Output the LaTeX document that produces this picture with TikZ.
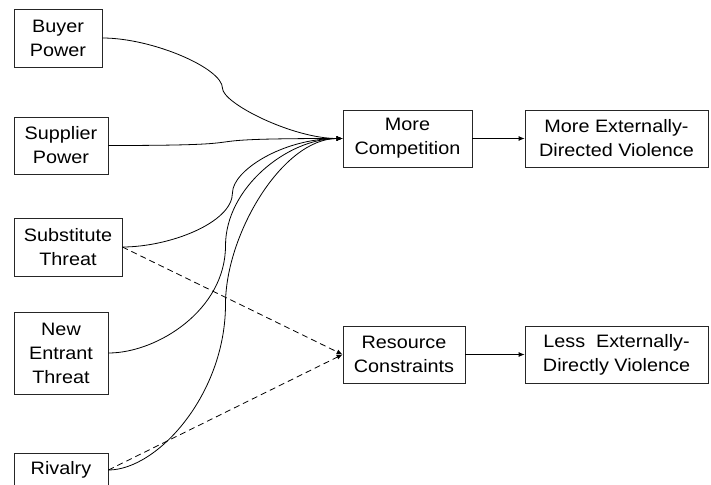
\documentclass[tikz,border=0pt]{standalone}
\usepackage{fontspec}
\setmainfont[FakeStretch=1.1]{Liberation Sans}
\usetikzlibrary{arrows.meta,calc}
\tikzset{
  box/.style={draw=black!85, line width=0.8pt, align=center, inner sep=0pt,
    font=\fontsize{18}{24}\selectfont},
  conn/.style={draw=black, line width=0.8pt, -{Latex[length=6pt,width=5pt]}},
  dconn/.style={conn, dash pattern=on 6pt off 4pt},
}
\begin{document}
\begin{tikzpicture}[x=1pt,y=-1pt]
\clip (0,0) rectangle (711,484);
\fill[white] (0,0) rectangle (711,484);
\node[box, minimum width=88pt, minimum height=58pt] (buyer) at (58,38) {Buyer\\Power};
\node[box, minimum width=94pt, minimum height=57pt] (supp) at (61,145.5) {Supplier\\Power};
\node[box, minimum width=108pt, minimum height=58pt] (subst) at (68,247) {Substitute\\Threat};
\node[box, minimum width=94pt, minimum height=82pt] (newent) at (61,353) {New\\Entrant\\Threat};
\node[box, minimum width=94pt, minimum height=34pt] (riv) at (61,470) {Rivalry};
\node[box, minimum width=129pt, minimum height=57pt] (mc) at (407.5,138.5) {More\\Competition};
\node[box, minimum width=183pt, minimum height=57pt] (medv) at (616.5,138.5) {More Externally-\\Directed Violence};
\node[box, minimum width=122pt, minimum height=57pt] (rc) at (404,354.5) {Resource\\Constraints};
\node[box, minimum width=183pt, minimum height=57pt] (ledv) at (616.5,354.5) {Less\ \ Externally-\\Directly Violence};

\coordinate (mB) at ($(buyer.east)!0.5!(mc.west)$);
\coordinate (mS) at ($(subst.east)!0.5!(mc.west)$);
\coordinate (mN) at ($(newent.east)!0.5!(mc.west)$);
\coordinate (mR) at ($(riv.east)!0.5!(mc.west)$);

\draw[conn] (buyer.east) .. controls +(50,0) and +(0,-20) .. (mB)
  .. controls +(0,15) and +(-50,0) .. (mc.west);
\draw[conn] (supp.east) .. controls +(180,0) and +(-180,0) .. (mc.west);
\draw[conn] (subst.east) .. controls +(47,0) and +(0,30) .. (mS)
  .. controls +(0,-22) and +(-60,0) .. (mc.west);
\draw[conn] (newent.east) .. controls +(49,0) and +(0,64) .. (mN)
  .. controls +(0,-58) and +(-55,0) .. (mc.west);
\draw[conn] (riv.east) .. controls +(49,0) and +(0,90) .. (mR)
  .. controls +(0,-70) and +(-60,0) .. (mc.west);
\draw[dconn] (subst.east) -- (rc.west);
\draw[dconn] (riv.east) -- (rc.west);
\draw[conn] (mc) -- (medv);
\draw[conn] (rc) -- (ledv);
\end{tikzpicture}
\end{document}
